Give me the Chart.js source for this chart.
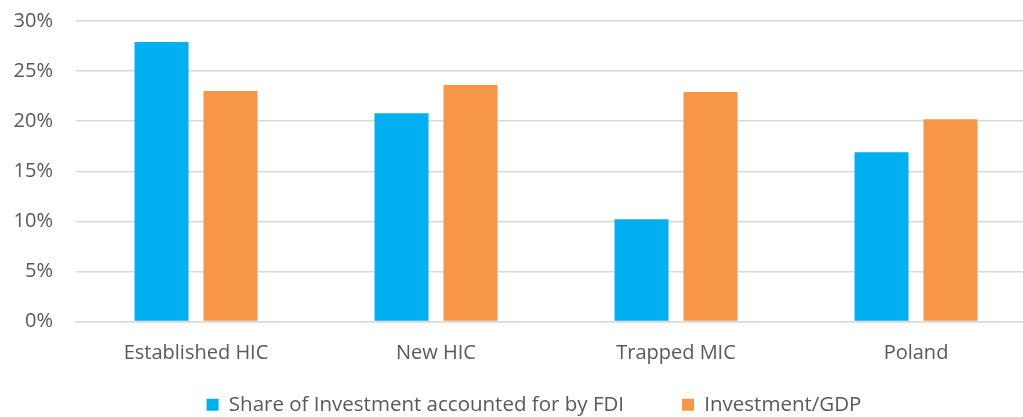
<!DOCTYPE html>
<html>
<head>
<meta charset="utf-8">
<script src="https://cdn.jsdelivr.net/npm/chart.js@4"></script>
<style>
  html, body { margin: 0; padding: 0; background: #fff; overflow: hidden; }
  #wrap { width: 1066px; height: 439px; margin-top: -14px; position: relative; }
</style>
</head>
<body>
<div id="wrap"><canvas id="chart"></canvas></div>
<script>
const categories = ["Established HIC", "New HIC", "Trapped MIC", "Poland"];
const fdiShare = [27.9, 20.8, 10.2, 16.9];
const investmentGdp = [23.0, 23.6, 22.9, 20.2];
const seriesNames = ["Share of Investment accounted for by FDI", "Investment/GDP"];
const yTicks = [0, 5, 10, 15, 20, 25, 30];

const ctx = document.getElementById("chart");
const textColor = "#595959";
const family = "'Open Sans', sans-serif";

// nudge the legend a bit to the right, like the original
const legendShift = {
  id: "legendShift",
  afterLayout(chart) {
    chart.legend.left += 16;
    chart.legend.right += 16;
  },
};

const myChart = new Chart(ctx, {
  type: "bar",
  data: {
    labels: categories,
    datasets: [
      {
        label: seriesNames[0],
        data: fdiShare,
        backgroundColor: "#00B0F0",
        barPercentage: 0.783,
        categoryPercentage: 0.575,
      },
      {
        label: seriesNames[1],
        data: investmentGdp,
        backgroundColor: "#F79646",
        barPercentage: 0.783,
        categoryPercentage: 0.575,
      },
    ],
  },
  plugins: [legendShift],
  options: {
    responsive: true,
    maintainAspectRatio: false,
    animation: false,
    layout: {
      padding: { top: 0, right: 30, left: 0, bottom: 0 },
    },
    plugins: {
      tooltip: { enabled: false },
      legend: {
        position: "bottom",
        labels: {
          boxWidth: 12,
          boxHeight: 12,
          padding: 17,
          color: textColor,
          font: { size: 20.5, family: family },
          generateLabels: (chart) => {
            const items = Chart.defaults.plugins.legend.labels.generateLabels(chart);
            items[0].text = items[0].text + "\u2003\u2003";
            return items;
          },
        },
      },
    },
    scales: {
      y: {
        min: 0,
        max: 30,
        border: { display: false },
        afterFit: (scale) => { scale.width = 76; },
        afterBuildTicks: (scale) => { scale.ticks = yTicks.map((v) => ({ value: v })); },
        ticks: {
          padding: 23,
          color: textColor,
          font: { size: 20, family: family },
          callback: (v) => v + "%",
        },
        grid: { color: "#d9d9d9", lineWidth: 1.5, drawTicks: false },
      },
      x: {
        border: { color: "#d9d9d9", width: 1.5 },
        grid: { display: false },
        ticks: {
          padding: 12,
          color: textColor,
          font: { size: 20, family: family },
        },
      },
    },
  },
});
</script>
</body>
</html>
